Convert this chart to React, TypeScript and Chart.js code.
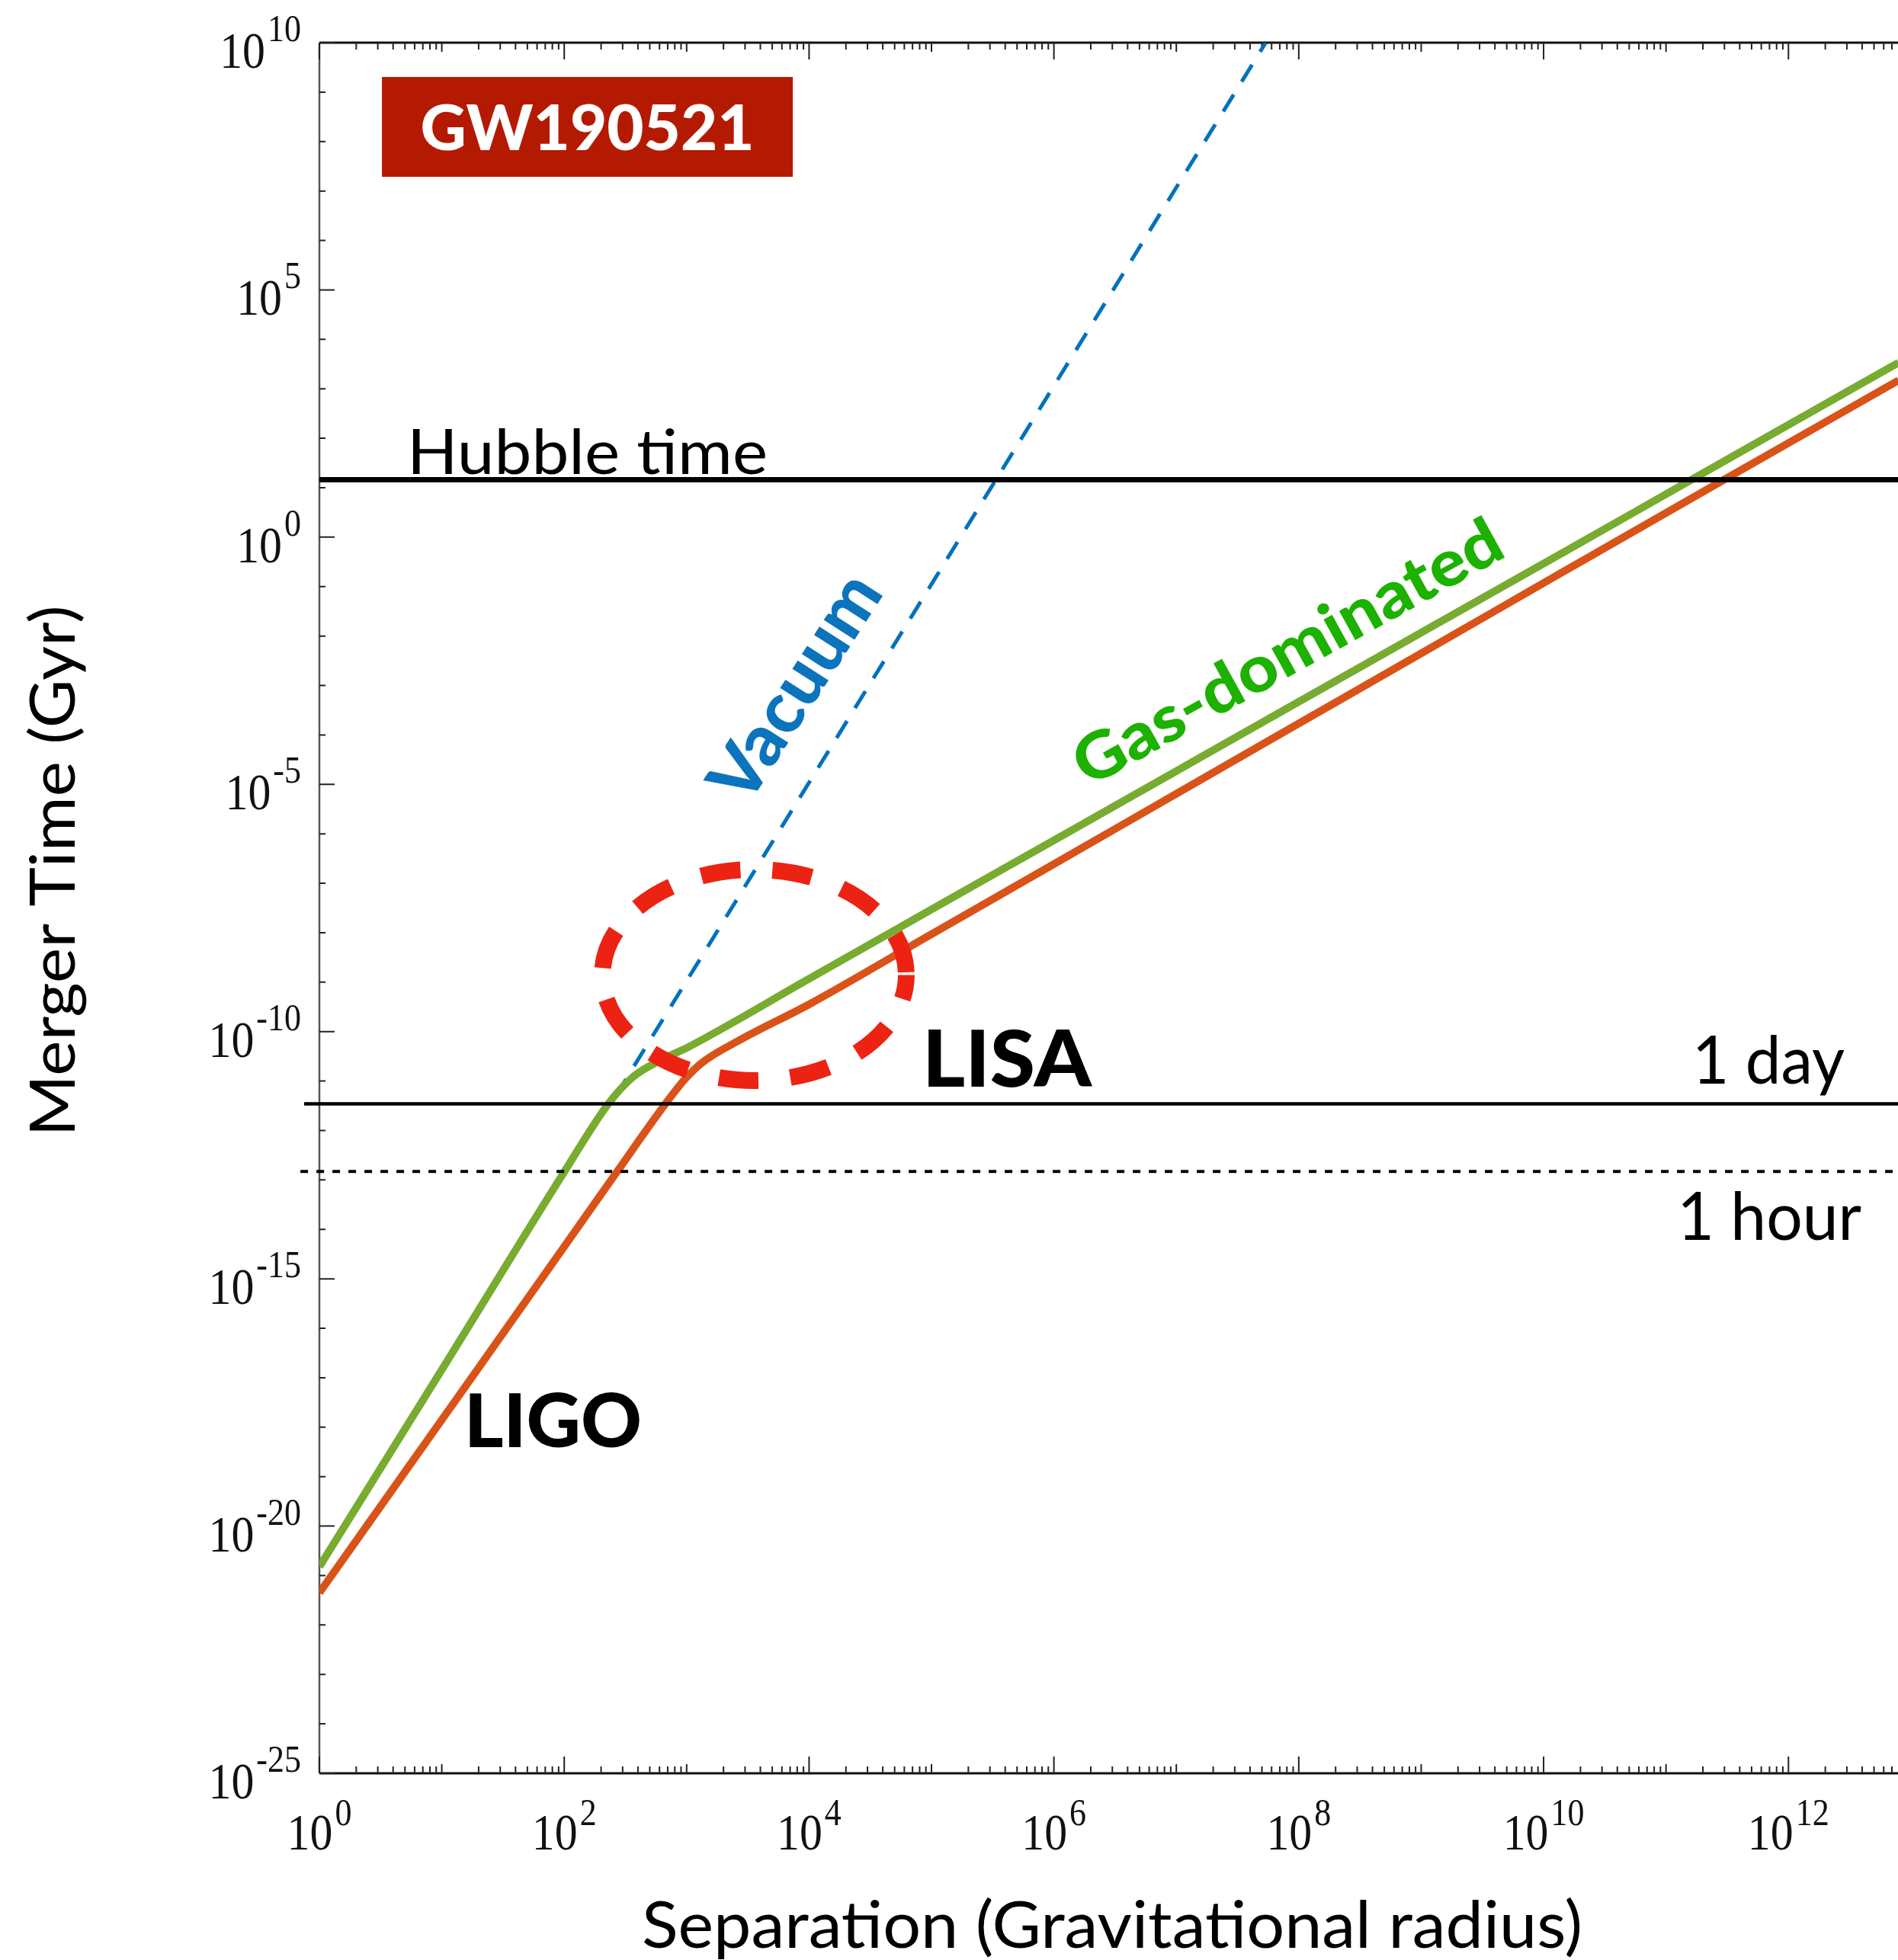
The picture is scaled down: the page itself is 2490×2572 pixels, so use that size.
import React, { useEffect, useRef } from 'react';
import { Chart, registerables } from 'chart.js';

Chart.register(...registerables);

// ---- data (separation in gravitational radii, merger time in Gyr) ----
const gasSeparation = [1, 10, 100, 229, 363, 646, 1000, 1e4, 1e5, 1.26e6, 1e7, 1e8, 1e9, 1.45e10, 1.66e11, 7.94e12];
const gasMergerTime = [1.51e-21, 1.45e-17, 1.45e-13, 3.47e-12, 1.2e-11, 2.82e-11, 4.68e-11, 1.17e-9, 2.95e-8, 1.02e-6, 1.86e-5, 4.68e-4, 1.17e-2, 0.49, 15.1, 3.39e3];

const redSeparation = [1, 10, 100, 269, 676, 977, 1349, 2818, 1e4, 1e5, 1.26e6, 1e7, 1e8, 1e9, 1.45e10, 3.16e11, 7.94e12];
const redMergerTime = [4.47e-22, 1.41e-18, 4.47e-15, 1.45e-13, 3.55e-12, 1.12e-11, 2.4e-11, 7.08e-11, 3.55e-10, 9.33e-9, 3.39e-7, 6.46e-6, 1.7e-4, 4.47e-3, 0.2, 15.8, 1.48e3];

const vacuumSeparation = [263, 5.37e7];
const vacuumMergerTime = [5.01e-12, 1e10];

const hubbleTimeGyr = 14.5;
const oneDayGyr = 3.47e-12;
const oneHourGyr = 1.48e-13;

const X_MIN = 1;
const X_MAX = 7.85e12;
const Y_MIN = 1e-25;
const Y_MAX = 1e10;

const xTickExponents = [0, 2, 4, 6, 8, 10, 12];
const yTickExponents = [10, 5, 0, -5, -10, -15, -20, -25];

// ellipse annotation (data bounds)
const ellipseBounds = { xMin: 175, xMax: 7.29e4, yMin: 6.93e-12, yMax: 2.81e-7 };

const SERIF = '"Liberation Serif", "Times New Roman", serif';
const SANS = 'Lato, "Noto Sans", sans-serif';

function pts(xs: number[], ys: number[]) {
  return xs.map((x, i) => ({ x, y: ys[i] }));
}

function capRatio(ctx: CanvasRenderingContext2D, weight: string, family: string) {
  ctx.font = `${weight} 100px ${family}`;
  const m = ctx.measureText('H');
  return (m.actualBoundingBoxAscent || 72) / 100;
}

function drawFitted(
  ctx: CanvasRenderingContext2D,
  text: string,
  x: number,
  y: number,
  o: { weight: string; cap: number; width: number; color: string; align?: CanvasTextAlign; family?: string; angle?: number; centerY?: boolean }
) {
  const family = o.family || SANS;
  const size = o.cap / capRatio(ctx, o.weight, family);
  ctx.font = `${o.weight} ${size}px ${family}`;
  const w = ctx.measureText(text).width;
  const sx = o.width / w;
  ctx.save();
  ctx.translate(x, y);
  if (o.angle) ctx.rotate(o.angle);
  ctx.scale(sx, 1);
  ctx.textAlign = o.align || 'left';
  ctx.textBaseline = 'alphabetic';
  ctx.fillStyle = o.color;
  ctx.fillText(text, 0, o.centerY ? o.cap / 2 : 0);
  ctx.restore();
}

const BASE_SIZE = 68;
const SUP_SIZE = 50;
const SX = 0.88;

function drawPower(ctx: CanvasRenderingContext2D, exp: number, ax: number, baseY: number, supY: number, align: 'center' | 'right') {
  const supText = String(exp);
  ctx.font = `${BASE_SIZE}px ${SERIF}`;
  const wb = ctx.measureText('10').width * SX;
  ctx.font = `${SUP_SIZE}px ${SERIF}`;
  const ws = ctx.measureText(supText).width * SX;
  const gap = 3;
  const total = wb + gap + ws;
  const start = align === 'center' ? ax - total / 2 : ax - total;
  ctx.fillStyle = '#111';
  ctx.textAlign = 'left';
  ctx.textBaseline = 'alphabetic';
  ctx.save();
  ctx.translate(start, baseY);
  ctx.scale(SX, 1);
  ctx.font = `${BASE_SIZE}px ${SERIF}`;
  ctx.fillText('10', 0, 0);
  ctx.restore();
  ctx.save();
  ctx.translate(start + wb + gap, supY);
  ctx.scale(SX, 1);
  ctx.font = `${SUP_SIZE}px ${SERIF}`;
  ctx.fillText(supText, 0, 0);
  ctx.restore();
}

const framePlugin = {
  id: 'frame',
  beforeDraw(chart: any) {
    const ctx = chart.ctx as CanvasRenderingContext2D;
    ctx.save();
    ctx.fillStyle = '#fff';
    ctx.fillRect(0, 0, chart.width, chart.height);
    ctx.restore();
  },
  beforeDatasetsDraw(chart: any) {
    const ctx = chart.ctx as CanvasRenderingContext2D;
    const { left, right, top, bottom } = chart.chartArea;
    const xs = chart.scales.x;
    const ys = chart.scales.y;
    ctx.save();
    // axes lines
    ctx.strokeStyle = '#555';
    ctx.lineWidth = 2.5;
    ctx.beginPath();
    ctx.moveTo(left, top);
    ctx.lineTo(left, bottom);
    ctx.stroke();
    ctx.strokeStyle = '#111';
    ctx.lineWidth = 3;
    ctx.beginPath();
    ctx.moveTo(left, bottom);
    ctx.lineTo(right, bottom);
    ctx.moveTo(left, top);
    ctx.lineTo(right, top);
    ctx.stroke();

    // x ticks (bottom and top, inward)
    ctx.strokeStyle = '#222';
    ctx.lineWidth = 2;
    ctx.beginPath();
    for (let d = 0; d <= 13; d++) {
      for (let m = 1; m <= 9; m++) {
        const v = m * Math.pow(10, d);
        if (v > X_MAX) break;
        const px = xs.getPixelForValue(v);
        let len = 9;
        if (m === 1) len = d % 2 === 0 ? 22 : 12;
        ctx.moveTo(px, bottom);
        ctx.lineTo(px, bottom - len);
        ctx.moveTo(px, top);
        ctx.lineTo(px, top + len);
      }
    }
    // y ticks (left, inward)
    for (let e = -25; e <= 10; e++) {
      const py = ys.getPixelForValue(Math.pow(10, e));
      const len = e % 5 === 0 ? 20 : 8;
      ctx.moveTo(left, py);
      ctx.lineTo(left + len, py);
    }
    ctx.stroke();

    // tick labels
    xTickExponents.forEach((e) => {
      const px = xs.getPixelForValue(Math.pow(10, e));
      drawPower(ctx, e, px, bottom + 100, bottom + 68, 'center');
    });
    yTickExponents.forEach((e) => {
      const py = ys.getPixelForValue(Math.pow(10, e));
      drawPower(ctx, e, left - 24, py + 33, py - 2, 'right');
    });

    // axis titles
    drawFitted(ctx, 'Separation (Gravitational radius)', 1459, 2556, {
      weight: '400', cap: 62, width: 1234, color: '#000', align: 'center',
    });
    drawFitted(ctx, 'Merger Time (Gyr)', 98, 1143, {
      weight: '400', cap: 60, width: 697, color: '#000', align: 'center', angle: -Math.PI / 2,
    });
    ctx.restore();
  },
  afterDatasetsDraw(chart: any) {
    const ctx = chart.ctx as CanvasRenderingContext2D;
    const xs = chart.scales.x;
    const ys = chart.scales.y;
    const P = (lx: number, ly: number) => [xs.getPixelForValue(Math.pow(10, lx)), ys.getPixelForValue(Math.pow(10, ly))];
    ctx.save();

    // dashed red ellipse
    const ex1 = xs.getPixelForValue(ellipseBounds.xMin);
    const ex2 = xs.getPixelForValue(ellipseBounds.xMax);
    const ey1 = ys.getPixelForValue(ellipseBounds.yMax);
    const ey2 = ys.getPixelForValue(ellipseBounds.yMin);
    ctx.strokeStyle = '#EC2312';
    ctx.lineWidth = 22;
    ctx.setLineDash([52, 42]);
    ctx.lineDashOffset = 20;
    ctx.beginPath();
    ctx.ellipse((ex1 + ex2) / 2, (ey1 + ey2) / 2, (ex2 - ex1) / 2 - 11, (ey2 - ey1) / 2 - 11, 0, 0, Math.PI * 2);
    ctx.stroke();
    ctx.setLineDash([]);

    // GW190521 box
    const [bx1, by1] = P(0.511, 9.306);
    const [bx2, by2] = P(3.867, 7.287);
    ctx.fillStyle = '#B41A02';
    ctx.fillRect(bx1, by1, bx2 - bx1, by2 - by1);
    drawFitted(ctx, 'GW190521', (bx1 + bx2) / 2, by1 + (by2 - by1) / 2, {
      weight: '900', cap: 60, width: 438, color: '#fff', align: 'center', centerY: true,
    });

    // labels
    let [x, y] = P(0.716, 1.278);
    drawFitted(ctx, 'Hubble time', x, y, { weight: '400', cap: 60, width: 473, color: '#000' });
    [x, y] = P(4.925, -11.113);
    drawFitted(ctx, 'LISA', x, y, { weight: '900', cap: 75, width: 222, color: '#000' });
    [x, y] = P(1.183, -18.402);
    drawFitted(ctx, 'LIGO', x, y, { weight: '900', cap: 71, width: 233, color: '#000' });
    [x, y] = P(11.214, -11.051);
    drawFitted(ctx, '1 day', x, y, { weight: '400', cap: 63, width: 200, color: '#000' });
    [x, y] = P(11.09, -14.21);
    drawFitted(ctx, '1 hour', x, y, { weight: '400', cap: 63, width: 242, color: '#000' });
    [x, y] = P(3.876, -3.014);
    drawFitted(ctx, 'Vacuum', x, y, {
      weight: '900', cap: 68, width: 335, color: '#0C74BC', align: 'center', angle: (-57.3 * Math.PI) / 180, centerY: true,
    });
    [x, y] = P(7.902, -2.304);
    drawFitted(ctx, 'Gas-dominated', x, y, {
      weight: '900', cap: 62, width: 630, color: '#1DB100', align: 'center', angle: (-29 * Math.PI) / 180, centerY: true,
    });
    ctx.restore();
  },
};

export default function App() {
  const ref = useRef<HTMLCanvasElement>(null);
  useEffect(() => {
    document.body.style.margin = '0';
    const canvas = ref.current!;
    const chart = new Chart(canvas, {
      type: 'line',
      data: {
        datasets: [
          {
            label: 'Hubble time',
            data: pts([X_MIN, X_MAX], [hubbleTimeGyr, hubbleTimeGyr]),
            borderColor: '#000',
            borderWidth: 7,
            pointRadius: 0,
          },
          {
            label: '1 day',
            data: pts([0.75, X_MAX], [oneDayGyr, oneDayGyr]),
            borderColor: '#000',
            borderWidth: 4.5,
            pointRadius: 0,
            clip: false,
          },
          {
            label: '1 hour',
            data: pts([0.7, X_MAX], [oneHourGyr, oneHourGyr]),
            borderColor: '#000',
            borderWidth: 4,
            borderDash: [10, 11],
            pointRadius: 0,
            clip: false,
          },
          {
            label: 'Gas-dominated',
            data: pts(gasSeparation, gasMergerTime),
            borderColor: '#77AC30',
            borderWidth: 10,
            pointRadius: 0,
            cubicInterpolationMode: 'monotone',
          },
          {
            label: 'Gas (red)',
            data: pts(redSeparation, redMergerTime),
            borderColor: '#D95319',
            borderWidth: 10,
            pointRadius: 0,
            cubicInterpolationMode: 'monotone',
          },
          {
            label: 'Vacuum',
            data: pts(vacuumSeparation, vacuumMergerTime),
            borderColor: '#0072BD',
            borderWidth: 5,
            borderDash: [26, 20],
            pointRadius: 0,
          },
        ] as any,
      },
      options: {
        responsive: false,
        animation: false,
        devicePixelRatio: 1,
        layout: { padding: { left: 419, top: 56, right: 0, bottom: 245 } },
        scales: {
          x: { type: 'logarithmic', min: X_MIN, max: X_MAX, display: false },
          y: { type: 'logarithmic', min: Y_MIN, max: Y_MAX, display: false },
        },
        plugins: { legend: { display: false }, tooltip: { enabled: false } },
        elements: { line: { tension: 0 } },
      } as any,
      plugins: [framePlugin],
    });
    return () => chart.destroy();
  }, []);
  return (
    <canvas
      ref={ref}
      width={2490}
      height={2572}
      style={{ position: 'absolute', left: 0, top: 0, display: 'block' }}
    />
  );
}
